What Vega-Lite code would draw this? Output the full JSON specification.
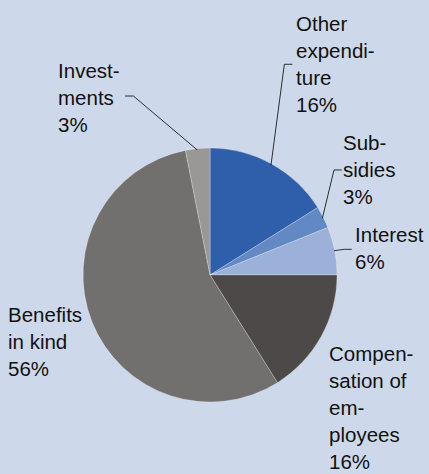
{
  "$schema": "https://vega.github.io/schema/vega-lite/v6.json",
  "width": 429,
  "height": 474,
  "padding": 0,
  "autosize": {"type": "none"},
  "background": "#CDD9EA",
  "config": {"view": {"stroke": null}},
  "datasets": {
    "slices": [
      {"category": "Other expenditure", "share": 16.1, "rank": 1},
      {"category": "Subsidies", "share": 2.8, "rank": 2},
      {"category": "Interest", "share": 6.1, "rank": 3},
      {"category": "Compensation of employees", "share": 16.1, "rank": 4},
      {"category": "Benefits in kind", "share": 55.8, "rank": 5},
      {"category": "Investments", "share": 3.1, "rank": 6}
    ],
    "labels": [
      {"text": "Other\nexpendi-\nture\n16%", "x": 0.677, "y": 1.924},
      {"text": "Invest-\nments\n3%", "x": -1.197, "y": 1.554},
      {"text": "Sub-\nsidies\n3%", "x": 1.047, "y": 0.984},
      {"text": "Interest\n6%", "x": 1.142, "y": 0.262},
      {"text": "Compen-\nsation of\nem-\nployees\n16%", "x": 0.937, "y": -0.675},
      {"text": "Benefits\nin kind\n56%", "x": -1.591, "y": -0.368}
    ],
    "leaders": [
      {"id": "inv", "seq": 1, "x": -0.669, "y": 1.409},
      {"id": "inv", "seq": 2, "x": -0.604, "y": 1.409},
      {"id": "inv", "seq": 3, "x": -0.100, "y": 0.984},
      {"id": "oth", "seq": 1, "x": 0.648, "y": 1.659},
      {"id": "oth", "seq": 2, "x": 0.585, "y": 1.659},
      {"id": "oth", "seq": 3, "x": 0.480, "y": 0.866},
      {"id": "sub", "seq": 1, "x": 1.037, "y": 0.827},
      {"id": "sub", "seq": 2, "x": 0.976, "y": 0.827},
      {"id": "sub", "seq": 3, "x": 0.884, "y": 0.446},
      {"id": "int", "seq": 1, "x": 1.116, "y": 0.202},
      {"id": "int", "seq": 2, "x": 1.057, "y": 0.202},
      {"id": "int", "seq": 3, "x": 0.976, "y": 0.191}
    ]
  },
  "layer": [
    {
      "data": {"name": "slices"},
      "mark": {"type": "arc", "outerRadius": 127, "stroke": "#ffffff", "strokeWidth": 0.5, "strokeOpacity": 0.5},
      "encoding": {
        "theta": {"field": "share", "type": "quantitative", "stack": true},
        "order": {"field": "rank", "type": "quantitative"},
        "color": {
          "field": "category",
          "type": "nominal",
          "scale": {
            "domain": ["Other expenditure", "Subsidies", "Interest", "Compensation of employees", "Benefits in kind", "Investments"],
            "range": ["#2F5FAA", "#6389C4", "#9BB1D9", "#4D4948", "#72706E", "#9A9896"]
          },
          "legend": null
        },
        "x": {"datum": 0, "type": "quantitative", "scale": {"domain": [-1.654, 1.724], "nice": false, "zero": false}, "axis": null},
        "y": {"datum": 0, "type": "quantitative", "scale": {"domain": [-1.567, 2.165], "nice": false, "zero": false}, "axis": null}
      }
    },
    {
      "data": {"name": "leaders"},
      "mark": {"type": "line", "color": "#1a1a1a", "strokeWidth": 0.9},
      "encoding": {
        "x": {"field": "x", "type": "quantitative"},
        "y": {"field": "y", "type": "quantitative"},
        "detail": {"field": "id"},
        "order": {"field": "seq", "type": "quantitative"}
      }
    },
    {
      "data": {"name": "labels"},
      "mark": {"type": "text", "align": "left", "baseline": "alphabetic", "fontSize": 20.5, "font": "Liberation Sans", "lineBreak": "\n", "lineHeight": 27, "color": "#111111"},
      "encoding": {
        "x": {"field": "x", "type": "quantitative"},
        "y": {"field": "y", "type": "quantitative"},
        "text": {"field": "text"}
      }
    }
  ]
}
